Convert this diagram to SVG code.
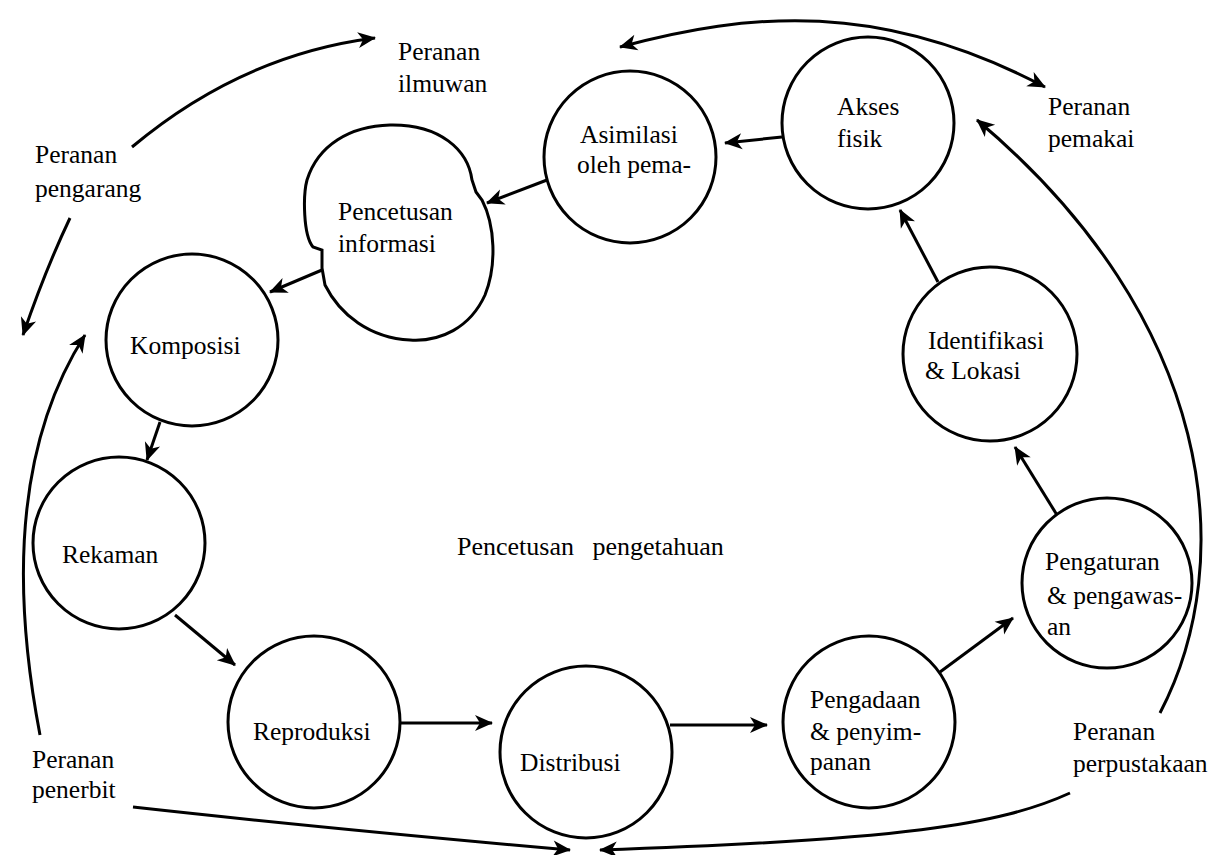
<svg xmlns="http://www.w3.org/2000/svg" width="1215" height="855" viewBox="0 0 1215 855">
<defs>
<marker id="ah" markerUnits="userSpaceOnUse" markerWidth="22" markerHeight="20" refX="17" refY="8" orient="auto-start-reverse" overflow="visible">
<path d="M0,0 L18,8 L0,16 L5,8 Z" fill="#000"/>
</marker>
<style>
.n{fill:#fff;stroke:#000;stroke-width:3}
.t{font-family:"Liberation Serif","Times New Roman",serif;font-size:25.5px;fill:#000}
.c{fill:none;stroke:#000;stroke-width:3;marker-end:url(#ah)}
.d{fill:none;stroke:#000;stroke-width:3;marker-start:url(#ah);marker-end:url(#ah)}
</style>
</defs>
<rect width="1215" height="855" fill="#fff"/>
<g id="connectors">
<path class="c" d="M782,137 L725,143"/>
<path class="c" d="M547,180 L487,203"/>
<path class="c" d="M322,270 L270,292"/>
<path class="c" d="M160,422 L147,460"/>
<path class="c" d="M175,615 L235,665"/>
<path class="c" d="M400,723 L492,723"/>
<path class="c" d="M670,725 L767,725"/>
<path class="c" d="M940,672 L1013,618"/>
<path class="c" d="M1057,515 L1015,447"/>
<path class="c" d="M938,282 L900,210"/>
<path class="c" d="M132,147 C200,90 280,50 375,38"/>
<path class="c" d="M70,218 C50,260 35,300 23,335"/>
<path class="c" d="M40,735 C18,620 5,460 85,335"/>
<path class="c" d="M133,807 C250,820 400,835 570,850"/>
<path class="c" d="M1070,793 C1000,825 900,840 600,850"/>
<path class="c" d="M1160,713 C1240,560 1215,320 977,120"/>
<path class="d" d="M620,47 C750,12 880,0 1045,87"/>
</g>
<g id="akses"><circle class="n" cx="868" cy="123" r="86"/><text class="t" x="837" y="115">Akses</text><text class="t" x="837" y="147">fisik</text></g>
<g id="asimilasi"><circle class="n" cx="630" cy="157" r="86"/><text class="t" x="580" y="143">Asimilasi</text><text class="t" x="577" y="173">oleh pema-</text></g>
<g id="pencetusan-informasi"><path class="n" d="M390,125 C440,124 468,150 472,180 L476,192 L482,200 C495,225 497,265 485,295 C470,328 440,342 410,340 C370,338 340,315 325,285 L322,268 L322,250 L313,247 C303,235 303,195 307,180 C318,145 350,126 390,125 Z"/><text class="t" x="338" y="220">Pencetusan</text><text class="t" x="338" y="252">informasi</text></g>
<g id="komposisi"><circle class="n" cx="192" cy="340" r="86"/><text class="t" x="130" y="354">Komposisi</text></g>
<g id="rekaman"><circle class="n" cx="119" cy="543" r="86"/><text class="t" x="62" y="563">Rekaman</text></g>
<g id="reproduksi"><circle class="n" cx="314" cy="722" r="86"/><text class="t" x="253" y="740">Reproduksi</text></g>
<g id="distribusi"><circle class="n" cx="586" cy="752" r="86"/><text class="t" x="520" y="771">Distribusi</text></g>
<g id="pengadaan"><circle class="n" cx="869" cy="722" r="86"/><text class="t" x="810" y="708">Pengadaan</text><text class="t" x="810" y="740">&amp; penyim-</text><text class="t" x="810" y="770">panan</text></g>
<g id="pengaturan"><circle class="n" cx="1107" cy="583" r="85"/><text class="t" x="1045" y="570">Pengaturan</text><text class="t" x="1047" y="604">&amp; pengawas-</text><text class="t" x="1047" y="635">an</text></g>
<g id="identifikasi"><circle class="n" cx="990" cy="354" r="87"/><text class="t" x="928" y="349">Identifikasi</text><text class="t" x="925" y="379">&amp; Lokasi</text></g>
<g id="labels">
<text class="t" x="398" y="60">Peranan</text><text class="t" x="398" y="92">ilmuwan</text>
<text class="t" x="35" y="163">Peranan</text><text class="t" x="35" y="197">pengarang</text>
<text class="t" x="1048" y="115">Peranan</text><text class="t" x="1048" y="147">pemakai</text>
<text class="t" x="32" y="768">Peranan</text><text class="t" x="32" y="798">penerbit</text>
<text class="t" x="1073" y="740">Peranan</text><text class="t" x="1073" y="772">perpustakaan</text>
<text class="t" x="457" y="555" style="font-size:26px;word-spacing:12px">Pencetusan pengetahuan</text>
</g>
</svg>
